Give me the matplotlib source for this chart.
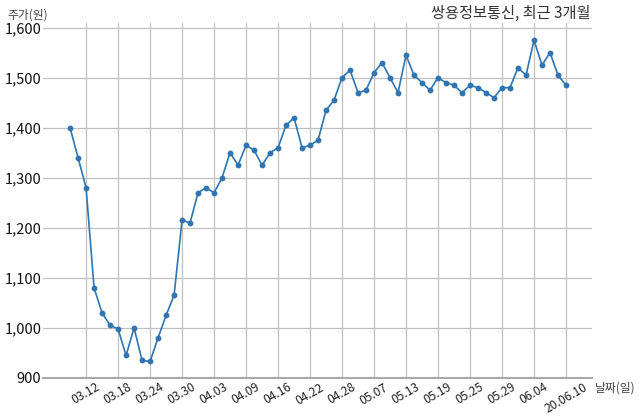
import numpy as np
import matplotlib
matplotlib.use("Agg")
import matplotlib.pyplot as plt

plt.rcParams['font.family'] = ['Noto Sans CJK KR', 'DejaVu Sans']

# 쌍용정보통신 종가, 2020.03.10 ~ 2020.06.10 (거래일 기준)
prices = [1400, 1340, 1280, 1080, 1030, 1005, 998, 945, 1000, 935,
          933, 980, 1025, 1065, 1215, 1210, 1270, 1280, 1270, 1300,
          1350, 1325, 1365, 1355, 1325, 1350, 1360, 1405, 1420, 1360,
          1365, 1375, 1435, 1455, 1500, 1515, 1470, 1475, 1510, 1530,
          1500, 1470, 1545, 1505, 1490, 1475, 1500, 1490, 1485, 1470,
          1485, 1480, 1470, 1460, 1480, 1480, 1520, 1505, 1575, 1525,
          1550, 1505, 1485]
tick_idx = [2, 6, 10, 14, 18, 22, 26, 30, 34, 38, 42, 46, 50, 54, 58, 62]
tick_labels = ['03.12', '03.18', '03.24', '03.30', '04.03', '04.09', '04.16',
               '04.22', '04.28', '05.07', '05.13', '05.19', '05.25', '05.29',
               '06.04', '20.06.10']
y_ticks = [900, 1000, 1100, 1200, 1300, 1400, 1500, 1600]

fig = plt.figure(figsize=(6.4, 4.19), dpi=100)
ax = fig.add_axes([0.067, 0.098, 0.858, 0.848])

x = np.arange(len(prices))
ax.plot(x, prices, color='#2e75b2', lw=1.2, marker='o', ms=3.2, zorder=3)

ax.set_xlim(-3.4, 65.25)
ax.set_ylim(900, 1610)
ax.set_xticks(tick_idx)
ax.set_xticklabels(tick_labels, rotation=30, ha='center', fontsize=8.7, color='#222222')
ax.set_yticks(y_ticks)
ax.set_yticklabels([f'{v:,}' for v in y_ticks], fontsize=10.5, color='#111111')
ax.tick_params(axis='y', length=0, pad=1)
ax.tick_params(axis='x', length=0, pad=2)

ax.grid(True, color='#c0c0c0', lw=0.9)
ax.set_axisbelow(True)
for s in ['left', 'right', 'top']:
    ax.spines[s].set_visible(False)
ax.spines['bottom'].set_color('#aaaaaa')
ax.spines['bottom'].set_linewidth(1.5)

fig.text(0.011, 0.963, '주가(원)', fontsize=8.5, color='#444444', va='center')
fig.text(0.923, 0.968, '쌍용정보통신, 최근 3개월', fontsize=11, color='#333333',
         ha='right', va='center')
fig.text(0.929, 0.073, '날짜(일)', fontsize=8.5, color='#444444', va='center')

fig.savefig('out.png', dpi=100)
